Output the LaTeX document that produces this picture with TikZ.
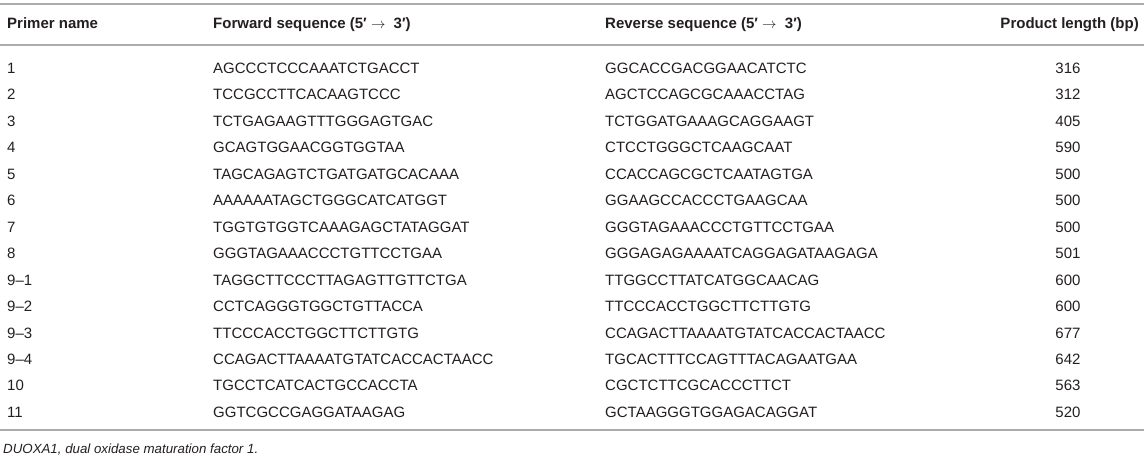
\documentclass[tikz,border=0pt]{standalone}
\usepackage{fontspec}
\setmainfont{Liberation Sans}
\definecolor{rulegray}{RGB}{172,172,172}
\definecolor{txt}{RGB}{35,31,32}
\newcommand{\seqdir}{(5′ $\rightarrow$\ \ 3′)}
\begin{document}
\begin{tikzpicture}[x={(1pt,0)},y={(0,-1pt)},
  cell/.style={inner sep=0pt,anchor=base west,text=txt,font=\fontsize{15}{17}\selectfont},
  head/.style={cell,font=\fontsize{15}{17}\selectfont\bfseries},
  num/.style={cell,anchor=base},
  rule/.style={draw=rulegray,line width=1.5pt}]
\useasboundingbox (0,0) rectangle (1144,460);
\draw[rule] (0,4) -- (1144,4);
\draw[rule] (0,45) -- (1144,45);
\draw[rule] (0,430) -- (1144,430);
\node[head] (H-name) at (7,28.5) {Primer name};
\node[head] (H-fwd) at (213,28.5) {Forward sequence \seqdir};
\node[head] (H-rev) at (605,28.5) {Reverse sequence \seqdir};
\node[head,anchor=base east] (H-len) at (1139,28.5) {Product length (bp)};
\foreach \k/\nm/\fw/\rv/\len [evaluate=\k as \yy using 73.4+26.46*(\k-1)] in
  {1/1/AGCCCTCCCAAATCTGACCT/GGCACCGACGGAACATCTC/316,
   2/2/TCCGCCTTCACAAGTCCC/AGCTCCAGCGCAAACCTAG/312,
   3/3/TCTGAGAAGTTTGGGAGTGAC/TCTGGATGAAAGCAGGAAGT/405,
   4/4/GCAGTGGAACGGTGGTAA/CTCCTGGGCTCAAGCAAT/590,
   5/5/TAGCAGAGTCTGATGATGCACAAA/CCACCAGCGCTCAATAGTGA/500,
   6/6/AAAAAATAGCTGGGCATCATGGT/GGAAGCCACCCTGAAGCAA/500,
   7/7/TGGTGTGGTCAAAGAGCTATAGGAT/GGGTAGAAACCCTGTTCCTGAA/500,
   8/8/GGGTAGAAACCCTGTTCCTGAA/GGGAGAGAAAATCAGGAGATAAGAGA/501,
   9/9–1/TAGGCTTCCCTTAGAGTTGTTCTGA/TTGGCCTTATCATGGCAACAG/600,
   10/9–2/CCTCAGGGTGGCTGTTACCA/TTCCCACCTGGCTTCTTGTG/600,
   11/9–3/TTCCCACCTGGCTTCTTGTG/CCAGACTTAAAATGTATCACCACTAACC/677,
   12/9–4/CCAGACTTAAAATGTATCACCACTAACC/TGCACTTTCCAGTTTACAGAATGAA/642,
   13/10/TGCCTCATCACTGCCACCTA/CGCTCTTCGCACCCTTCT/563,
   14/11/GGTCGCCGAGGATAAGAG/GCTAAGGGTGGAGACAGGAT/520}
{ \node[cell] (P-\k) at (7,\yy) {\nm};
  \node[cell] (F-\k) at (213,\yy) {\fw};
  \node[cell] (R-\k) at (605,\yy) {\rv};
  \node[num] (L-\k) at (1068,\yy) {\len};
}
\node[cell,font=\fontsize{13.3}{15}\selectfont\itshape] (note) at (3,453) {DUOXA1, dual oxidase maturation factor 1.};
\end{tikzpicture}
\end{document}
